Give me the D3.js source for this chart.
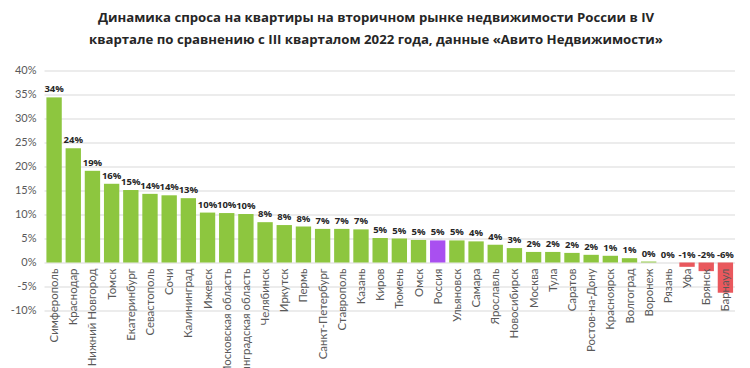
<!DOCTYPE html>
<html>
<head>
<meta charset="utf-8">
<script src="https://cdn.jsdelivr.net/npm/d3@7"></script>
<style>
body { margin: 0; background: #fff; }
svg { display: block; }
</style>
</head>
<body>
<svg width="750" height="368"></svg>
<script>
// data
let cities = ["Симферополь", "Краснодар", "Нижний Новгород", "Томск", "Екатеринбург", "Севастополь", "Сочи",
  "Калининград", "Ижевск", "Московская область", "Ленинградская область", "Челябинск", "Иркутск", "Пермь",
  "Санкт-Петербург", "Ставрополь", "Казань", "Киров", "Тюмень", "Омск", "Россия", "Ульяновск", "Самара",
  "Ярославль", "Новосибирск", "Москва", "Тула", "Саратов", "Ростов-на-Дону", "Красноярск", "Волгоград",
  "Воронеж", "Рязань", "Уфа", "Брянск", "Барнаул"];
let changes = [34.4, 23.8, 19.1, 16.4, 15.1, 14.3, 14.0, 13.4, 10.4, 10.3, 10.1, 8.4, 7.8, 7.5, 7.0, 7.0, 6.9,
  5.1, 5.0, 4.7, 4.6, 4.6, 4.4, 3.7, 3.0, 2.2, 2.2, 2.0, 1.6, 1.4, 0.9, 0.2, 0.0, -0.9, -1.8, -6.3];
let yTicks = [-10, -5, 0, 5, 10, 15, 20, 25, 30, 35, 40];

let data = cities.map(function(c, i) { return {city: c, value: changes[i]}; });

let svg = d3.select("svg"),
  margin = {top: 70.5, right: 15, bottom: 57.5, left: 44.5},
  width = +svg.attr("width") - margin.left - margin.right,
  height = +svg.attr("height") - margin.top - margin.bottom;

svg.append("text")
  .attr("x", 376).attr("y", 22)
  .attr("text-anchor", "middle")
  .attr("font-family", "'Open Sans', sans-serif")
  .attr("font-weight", "bold")
  .attr("font-size", 13.2)
  .attr("fill", "#262626")
  .text("Динамика спроса на квартиры на вторичном рынке недвижимости России в IV");
svg.append("text")
  .attr("x", 376).attr("y", 44)
  .attr("text-anchor", "middle")
  .attr("font-family", "'Open Sans', sans-serif")
  .attr("font-weight", "bold")
  .attr("font-size", 13.2)
  .attr("fill", "#262626")
  .text("квартале по сравнению с III кварталом 2022 года, данные «Авито Недвижимости»");

let g = svg.append("g").attr("transform", "translate(" + margin.left + "," + margin.top + ")");

let x = d3.scaleBand()
  .domain(cities)
  .range([0, width])
  .paddingInner(0.2)
  .paddingOuter(0.1);

let y = d3.scaleLinear()
  .domain([-10, 40])
  .range([height, 0]);

// gridlines
g.append("g")
  .selectAll("line")
  .data(yTicks)
  .enter().append("line")
    .attr("x1", 0)
    .attr("x2", width)
    .attr("y1", function(d) { return Math.round(y(d)) + 0.5; })
    .attr("y2", function(d) { return Math.round(y(d)) + 0.5; })
    .attr("stroke", "#d9d9d9")
    .attr("stroke-width", 1);

// y labels
g.append("g")
  .selectAll("text")
  .data(yTicks)
  .enter().append("text")
    .attr("x", -8)
    .attr("y", function(d) { return y(d); })
    .attr("dy", "0.35em")
    .attr("text-anchor", "end")
    .attr("font-family", "Lato, sans-serif")
    .attr("font-size", 11)
    .attr("fill", "#595959")
    .text(function(d) { return d + "%"; });

function barColor(d) {
  if (d.city == "Россия") return "#a94ff0";
  if (d.value < 0) return "#e9585d";
  return "#8dc63f";
}

g.append("g")
  .selectAll("rect")
  .data(data)
  .enter().append("rect")
    .attr("x", function(d) { return x(d.city); })
    .attr("y", function(d) { return y(Math.max(d.value, 0)); })
    .attr("width", x.bandwidth())
    .attr("height", function(d) { return Math.abs(y(d.value) - y(0)); })
    .attr("fill", barColor);

// value labels
g.append("g")
  .selectAll("text")
  .data(data)
  .enter().append("text")
    .attr("x", function(d) { return x(d.city) + x.bandwidth() / 2; })
    .attr("y", function(d) { return y(Math.max(d.value, 0)) - 5; })
    .attr("text-anchor", "middle")
    .attr("font-family", "'Open Sans', sans-serif")
    .attr("font-weight", "bold")
    .attr("font-size", 9.5)
    .attr("fill", "#262626")
    .text(function(d) { return Math.round(d.value) + "%"; });

// category labels, rotated
g.append("g")
  .selectAll("text")
  .data(data)
  .enter().append("text")
    .attr("transform", function(d) {
      return "translate(" + (x(d.city) + x.bandwidth() / 2) + "," + (y(0) + 6) + ") rotate(-90)";
    })
    .attr("dy", "0.35em")
    .attr("text-anchor", "end")
    .attr("font-family", "Lato, sans-serif")
    .attr("font-size", 11.4)
    .attr("fill", "#595959")
    .text(function(d) { return d.city; });
</script>
</body>
</html>
